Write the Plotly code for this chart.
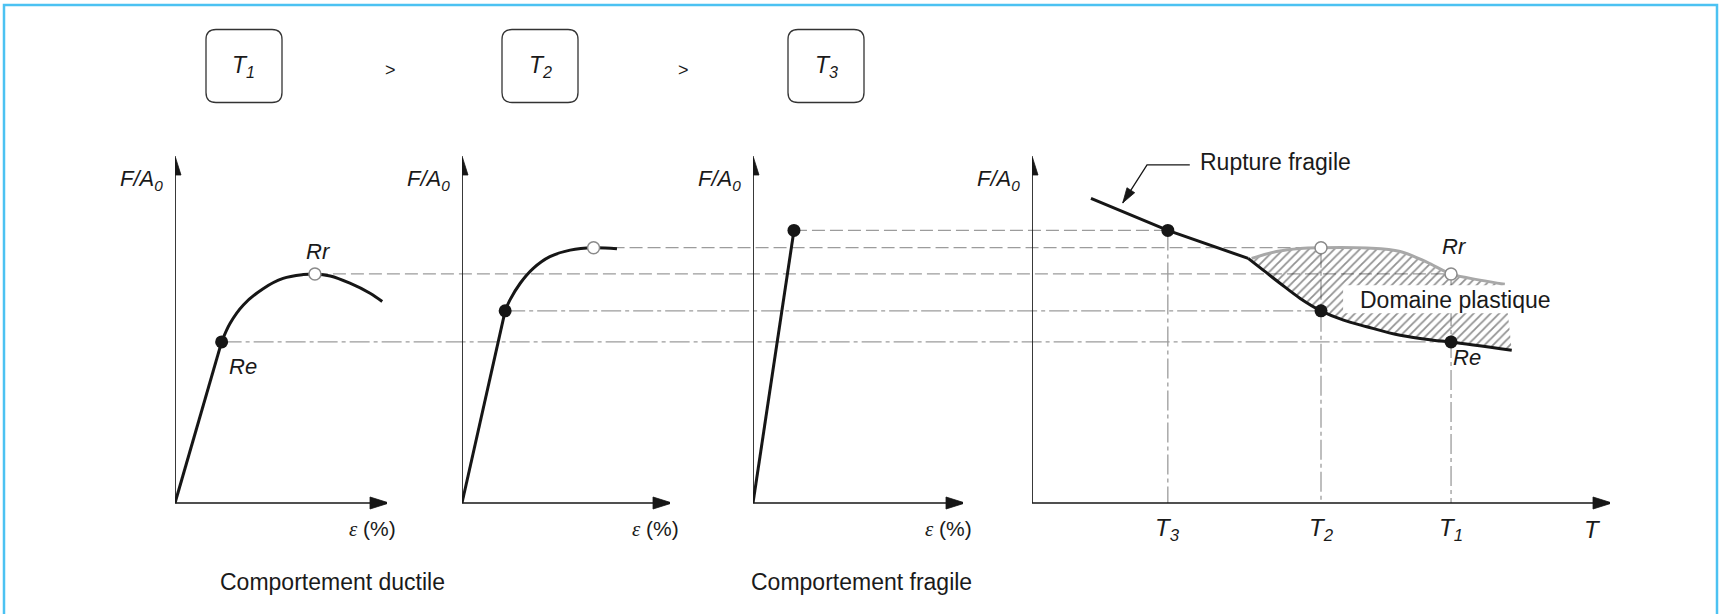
import math
import plotly.graph_objects as go

W, H = 1721, 614
FONT = "Liberation Sans, Arial, sans-serif"

# ---------------- data (strain in %, stress F/A0 and temperature in arbitrary units) -------------
# tensile curves at the three temperatures
eps_t1 = [8.8, 10.4, 12.9, 16.7, 20.4, 24.2, 26.4, 29.3, 33.0, 36.8, 39.1]
sig_t1 = [46.7, 52.1, 57.4, 62.2, 65.1, 66.2, 66.4, 65.8, 63.7, 60.8, 58.4]
eps_t2 = [8.3, 9.2, 11.2, 13.7, 16.9, 20.8, 25.3, 29.8]
sig_t2 = [55.7, 58.8, 63.7, 68.0, 71.4, 73.3, 74.0, 73.7]
eps_t3 = [0.0, 7.8]
sig_t3 = [0.0, 79.0]

# characteristic points [strain, stress]
re_t1 = [8.8, 46.7]
rr_t1 = [26.4, 66.4]
re_t2 = [8.3, 55.7]
rr_t2 = [25.3, 74.0]
rf_t3 = [7.8, 79.0]

# strength versus temperature
temp_ticks = [23.5, 50.0, 72.5]
temp_tick_labels = ["<i>T<sub>3</sub></i>", "<i>T<sub>2</sub></i>", "<i>T<sub>1</sub></i>"]
frag_temp = [10.2, 23.5, 37.4]
frag_sig = [88.3, 79.0, 70.9]
re_temp = [37.4, 40.0, 42.9, 46.4, 50.0, 53.9, 57.9, 63.7, 69.4, 72.5, 83.0]
re_sig = [70.9, 67.5, 63.7, 59.3, 55.7, 53.0, 51.1, 48.6, 47.2, 46.7, 44.3]
rr_temp = [38.0, 42.3, 46.4, 50.0, 57.9, 63.7, 68.3, 72.5, 77.5, 81.8]
rr_sig = [70.9, 72.9, 73.8, 74.0, 73.9, 72.9, 69.8, 66.4, 64.6, 63.4]

box_labels = ["<i>T<sub>1</sub></i>", "<i>T<sub>2</sub></i>", "<i>T<sub>3</sub></i>"]

# ---------------- geometry ----------------
AX_Y0 = 503        # pixel row of the horizontal axes
SIG_PX = 3.45      # pixels per stress unit
SIG_TOP = 100.0    # stress at the tip of the vertical arrows
# (axis id, origin px, arrow tip px, value at arrow tip)
panels = [("x", 175, 387, 40.0), ("x2", 462, 670, 40.0),
          ("x3", 753, 963, 40.0), ("x4", 1032, 1610, 100.0)]

BLACK = "#161616"
GREY = "#9c9c9c"
DASH = "13px,5px"
DASHDOT = "20px,4px,4px,4px"


def xpaper(i, v):
    _, p0, p1, vmax = panels[i]
    return (p0 + v / vmax * (p1 - p0)) / W


def px_per_unit(i):
    _, p0, p1, vmax = panels[i]
    return (p1 - p0) / vmax


fig = go.Figure()


def add(trace, i):
    trace.update(xaxis=panels[i][0], yaxis="y", showlegend=False, hoverinfo="skip")
    fig.add_trace(trace)


# vertical guides from the temperature points down to the T axis
for t, top in zip(temp_ticks, [rf_t3[1], rr_t2[1], rr_t1[1]]):
    add(go.Scatter(x=[t, t], y=[top, 0], mode="lines",
                   line=dict(color=GREY, width=1.3, dash=DASHDOT)), 3)

# hatched plastic domain between Re(T) and Rr(T)
add(go.Scatter(x=re_temp, y=re_sig, mode="lines",
               line=dict(width=0, shape="spline", color="rgba(0,0,0,0)")), 3)
add(go.Scatter(x=rr_temp, y=rr_sig, mode="lines",
               line=dict(width=0, shape="spline", color="rgba(0,0,0,0)"),
               fill="tonexty", fillcolor="rgba(0,0,0,0)",
               fillpattern=dict(shape="/", fgcolor="#262626", size=6, solidity=0.3)), 3)

# axes lines
for i, (_, _, _, vmax) in enumerate(panels):
    add(go.Scatter(x=[0, vmax], y=[0, 0], mode="lines", line=dict(color=BLACK, width=1.7)), i)
    add(go.Scatter(x=[0, 0], y=[0, SIG_TOP], mode="lines", line=dict(color=BLACK, width=1.7)), i)

# tensile curves
add(go.Scatter(x=[0, re_t1[0]], y=[0, re_t1[1]], mode="lines", line=dict(color=BLACK, width=3)), 0)
add(go.Scatter(x=eps_t1, y=sig_t1, mode="lines", line=dict(color=BLACK, width=3, shape="spline")), 0)
add(go.Scatter(x=[0, re_t2[0]], y=[0, re_t2[1]], mode="lines", line=dict(color=BLACK, width=3)), 1)
add(go.Scatter(x=eps_t2, y=sig_t2, mode="lines", line=dict(color=BLACK, width=3, shape="spline")), 1)
add(go.Scatter(x=eps_t3, y=sig_t3, mode="lines", line=dict(color=BLACK, width=3)), 2)

# strength versus temperature curves
add(go.Scatter(x=rr_temp, y=rr_sig, mode="lines", line=dict(color="#a8a8a8", width=3, shape="spline")), 3)
add(go.Scatter(x=frag_temp, y=frag_sig, mode="lines", line=dict(color=BLACK, width=3)), 3)
add(go.Scatter(x=re_temp, y=re_sig, mode="lines", line=dict(color=BLACK, width=3, shape="spline")), 3)

# markers
DOT = dict(size=13, color=BLACK)
RING = dict(size=12, color="white", line=dict(color="#8a8a8a", width=1.5))
add(go.Scatter(x=[re_t1[0]], y=[re_t1[1]], mode="markers", marker=DOT), 0)
add(go.Scatter(x=[rr_t1[0]], y=[rr_t1[1]], mode="markers", marker=RING), 0)
add(go.Scatter(x=[re_t2[0]], y=[re_t2[1]], mode="markers", marker=DOT), 1)
add(go.Scatter(x=[rr_t2[0]], y=[rr_t2[1]], mode="markers", marker=RING), 1)
add(go.Scatter(x=[rf_t3[0]], y=[rf_t3[1]], mode="markers", marker=DOT), 2)
add(go.Scatter(x=temp_ticks, y=[rf_t3[1], re_t2[1], re_t1[1]], mode="markers", marker=DOT), 3)
add(go.Scatter(x=temp_ticks[1:], y=[rr_t2[1], rr_t1[1]], mode="markers", marker=RING), 3)

# "Rupture fragile" leader
lead_t = [27.3, 19.9, 15.7]
lead_s = [98.0, 98.0, 87.0]
add(go.Scatter(x=lead_t, y=lead_s, mode="lines", line=dict(color=BLACK, width=1.3)), 3)

shapes = []

# horizontal guides carrying the characteristic stresses across the panels
guides = [(2, rf_t3, 0, DASH), (1, rr_t2, 1, DASH), (0, rr_t1, 2, DASH),
          (1, re_t2, 1, DASHDOT), (0, re_t1, 2, DASHDOT)]
for pi, pt, ti, dash in guides:
    shapes.append(dict(type="line", xref="paper", yref="y", layer="below",
                       x0=xpaper(pi, pt[0]), x1=xpaper(3, temp_ticks[ti]),
                       y0=pt[1], y1=pt[1], line=dict(color=GREY, width=1.3, dash=dash)))

# arrow heads of the axes
for axid, _, _, vmax in panels:
    shapes.append(dict(type="path", xref=axid, yref="y", xsizemode="pixel", ysizemode="pixel",
                       xanchor=vmax, yanchor=0, path="M2,0 L-17,6 L-17,-6 Z",
                       fillcolor=BLACK, line=dict(color=BLACK, width=0.8)))
    shapes.append(dict(type="path", xref=axid, yref="y", xsizemode="pixel", ysizemode="pixel",
                       xanchor=0, yanchor=SIG_TOP, path="M0,2 L-6,-17 L6,-17 Z",
                       fillcolor=BLACK, line=dict(color=BLACK, width=0.8)))

# arrow head of the leader
dx = (lead_t[2] - lead_t[1]) * px_per_unit(3)
dy = (lead_s[2] - lead_s[1]) * SIG_PX
n = math.hypot(dx, dy)
ux, uy = dx / n, dy / n
L, hw = 15, 4.6
bx, by = -L * ux, -L * uy
p1 = (bx - hw * uy, by + hw * ux)
p2 = (bx + hw * uy, by - hw * ux)
shapes.append(dict(type="path", xref="x4", yref="y", xsizemode="pixel", ysizemode="pixel",
                   xanchor=lead_t[2], yanchor=lead_s[2],
                   path=f"M0,0 L{p1[0]:.2f},{p1[1]:.2f} L{p2[0]:.2f},{p2[1]:.2f} Z",
                   fillcolor=BLACK, line=dict(color=BLACK, width=0.8)))

# white backing of the "Domaine plastique" label
DP_T, DP_S = 73.2, 58.8
shapes.append(dict(type="rect", xref="x4", yref="y", xsizemode="pixel", ysizemode="pixel",
                   xanchor=DP_T, yanchor=DP_S, x0=-112, x1=105, y0=-13, y1=15,
                   fillcolor="white", line=dict(width=0)))

# rounded temperature boxes at the top
BOX_HW, BOX_HH, R = 38, 36.5, 10


def rounded(hw, hh, r):
    return (f"M{-hw + r},{hh} L{hw - r},{hh} Q{hw},{hh} {hw},{hh - r} "
            f"L{hw},{-hh + r} Q{hw},{-hh} {hw - r},{-hh} L{-hw + r},{-hh} "
            f"Q{-hw},{-hh} {-hw},{-hh + r} L{-hw},{hh - r} Q{-hw},{hh} {-hw + r},{hh} Z")


box_cx = [244, 540, 826]
BOX_CY = 66
for cx in box_cx:
    shapes.append(dict(type="path", xref="paper", yref="paper", xsizemode="pixel", ysizemode="pixel",
                       xanchor=cx / W, yanchor=1 - BOX_CY / H, path=rounded(BOX_HW, BOX_HH, R),
                       line=dict(color="#333333", width=1.3)))

# light blue frame
shapes.append(dict(type="rect", xref="paper", yref="paper", x0=4 / W, x1=1717 / W,
                   y0=-0.05, y1=1 - 5 / H, line=dict(color="#4cc2f2", width=2.5)))

ann = []


def note(text, x, y, xref, yref="y", size=20, **kw):
    d = dict(text=text, x=x, y=y, xref=xref, yref=yref, showarrow=False,
             font=dict(family=FONT, size=size, color="#1a1a1a"))
    d.update(kw)
    ann.append(d)


LBL_Y = (AX_Y0 - 529) / SIG_PX
FA_Y = (AX_Y0 - 180) / SIG_PX
for i, (axid, _, _, vmax) in enumerate(panels):
    note("<i>F/A<sub>0</sub></i>", 0, FA_Y, axid, size=22, xanchor="right", yanchor="middle", xshift=-10)
    if i < 3:
        note("<span style='font-family:Liberation Serif, serif'><i>ε</i></span> (%)", vmax, LBL_Y, axid,
             size=21, xanchor="right", yanchor="middle", xshift=11)

for t, lab in zip(temp_ticks, temp_tick_labels):
    note(lab, t, LBL_Y, "x4", size=24, xanchor="center", yanchor="middle")
note("<i>T</i>", 100, LBL_Y, "x4", size=24, xanchor="center", yanchor="middle", xshift=-18)

note("<i>Re</i>", re_t1[0], re_t1[1], "x", size=22, xanchor="left", yanchor="middle", xshift=5, yshift=-25)
note("<i>Rr</i>", rr_t1[0], rr_t1[1], "x", size=22, xanchor="center", yanchor="middle", xshift=4, yshift=22)
note("<i>Rr</i>", temp_ticks[2], rr_t1[1], "x4", size=22, xanchor="center", yanchor="middle", xshift=3, yshift=27)
note("<i>Re</i>", temp_ticks[2], re_t1[1], "x4", size=22, xanchor="left", yanchor="middle", xshift=0, yshift=-16)

note("Rupture fragile", lead_t[0], lead_s[0], "x4", size=23, xanchor="left", yanchor="middle", xshift=8, yshift=3)
note("Domaine plastique", DP_T, DP_S, "x4", size=23, xanchor="center", yanchor="middle")

note("Comportement ductile", 218 / W, 1 - 582 / H, "paper", "paper", size=23, xanchor="left", yanchor="middle")
note("Comportement fragile", 749 / W, 1 - 582 / H, "paper", "paper", size=23, xanchor="left", yanchor="middle")

for cx, lab in zip(box_cx, box_labels):
    note(lab, cx / W, 1 - BOX_CY / H, "paper", "paper", size=23, xanchor="center", yanchor="middle")
for gx in [390, 683]:
    note("&gt;", gx / W, 1 - 70 / H, "paper", "paper", size=18, xanchor="center", yanchor="middle")

layout = dict(width=W, height=H, margin=dict(l=0, r=0, t=0, b=0),
              paper_bgcolor="white", plot_bgcolor="rgba(0,0,0,0)",
              showlegend=False, shapes=shapes, annotations=ann,
              yaxis=dict(domain=[0, 1], range=[(AX_Y0 - H) / SIG_PX, AX_Y0 / SIG_PX],
                         visible=False, anchor="x", fixedrange=True))
for axid, p0, p1, vmax in panels:
    key = "xaxis" + axid[1:]
    layout[key] = dict(domain=[p0 / W, p1 / W], range=[0, vmax], visible=False,
                       anchor="y", fixedrange=True)

fig.update_layout(**layout)
fig.write_html("out.html")
